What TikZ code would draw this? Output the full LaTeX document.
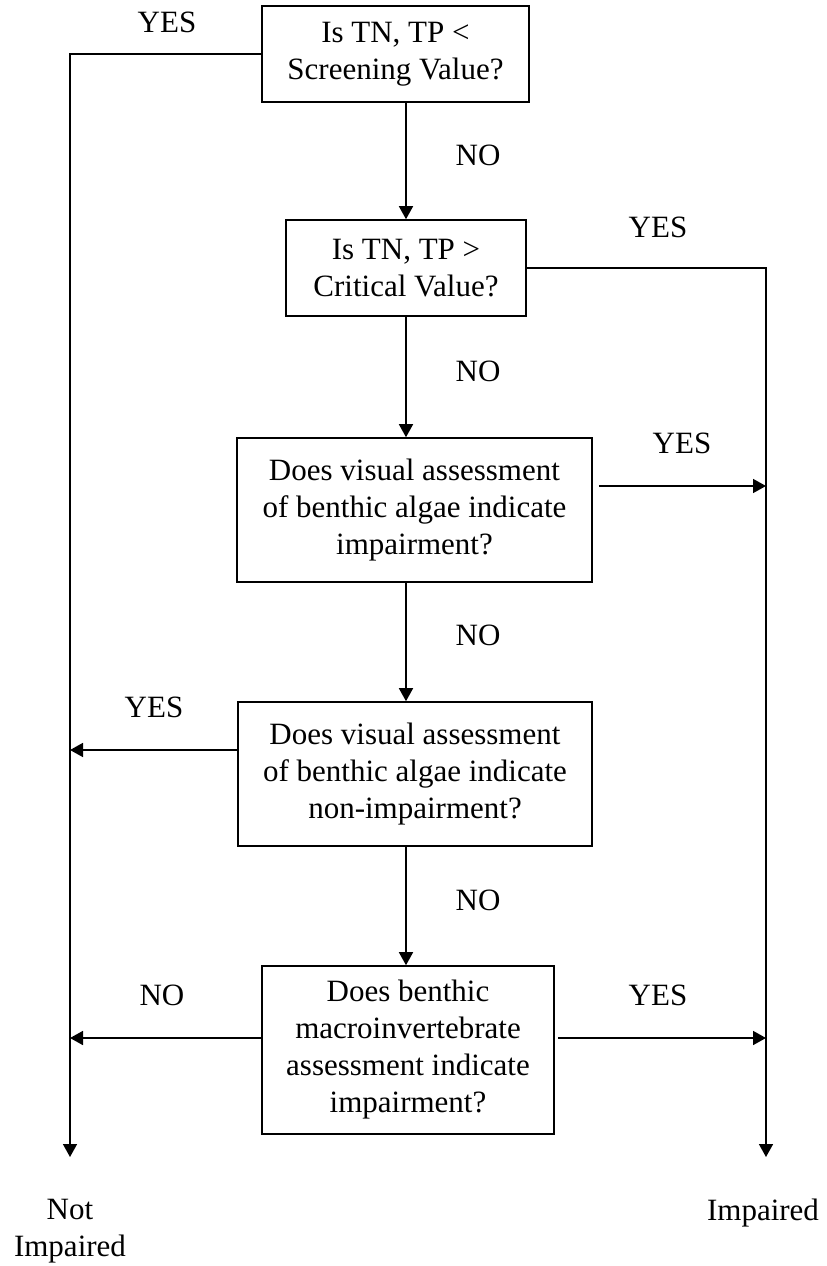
\documentclass[tikz,border=0pt]{standalone}
\usepackage{fontspec}
\setmainfont{Liberation Serif}
\usetikzlibrary{arrows.meta}

\begin{document}
\begin{tikzpicture}[x=1pt,y=-1pt,
        font=\fontsize{31}{37}\selectfont,
        qbox/.style={draw,line width=1.6pt,align=center,inner sep=0pt},
        flow/.style={line width=1.6pt,-{Triangle[length=13pt,width=14pt]}},
        lbl/.style={inner sep=0pt,align=center}]
        \useasboundingbox (0,0) rectangle (827,1266);
        % question boxes
        \node[qbox,minimum width=267pt,minimum height=96pt]  (q1) at (395.5,54) {Is TN, TP <\\Screening Value?};
        \node[qbox,minimum width=240pt,minimum height=96pt]  (q2) at (406,268)  {Is TN, TP >\\Critical Value?};
        \node[qbox,minimum width=355pt,minimum height=144pt] (q3) at (414.5,510) {Does visual assessment\\of benthic algae indicate\\impairment?};
        \node[qbox,minimum width=354pt,minimum height=144pt] (q4) at (415,774)  {Does visual assessment\\of benthic algae indicate\\non-impairment?};
        \node[qbox,minimum width=292pt,minimum height=168pt] (q5) at (408,1050) {Does benthic\\macroinvertebrate\\assessment indicate\\impairment?};
        % outcomes
        \node[lbl] (notimp) at (70,1231) {Not\\Impaired};
        \node[lbl] (imp)    at (763,1213) {Impaired};
        \coordinate (nl) at (70,54);
        \coordinate (nb) at (70,1157);
        \coordinate (ib) at (766,1157);
        % NO path down the middle
        \draw[flow] (q2.north |- q1.south) -- (q2.north);
        \draw[flow] (q2.south) -- (q2.south |- q3.north);
        \draw[flow] (q2.south |- q3.south) -- (q2.south |- q4.north);
        \draw[flow] (q2.south |- q4.south) -- (q2.south |- q5.north);
        % side branches
        \draw[flow] (q1.west) -- (nl) -- (nb);
        \draw[flow] (q2.east) -| (ib);
        \draw[flow] ([xshift=6pt,yshift=24pt]q3.east) coordinate (y3) -- (y3 -| ib);
        \draw[flow] ([yshift=24pt]q4.west) coordinate (y4) -- (y4 -| nb);
        \draw[flow] ([yshift=12pt]q5.west) coordinate (n5) -- (n5 -| nb);
        \draw[flow] ([xshift=3pt,yshift=12pt]q5.east) coordinate (y5) -- (y5 -| ib);
        % labels
        \node[lbl] (yes1) at (167,22)  {YES};
        \node[lbl] (no1)  at (478,155) {NO};
        \node[lbl] (yes2) at (658,227) {YES};
        \node[lbl] (no2)  at (478,371) {NO};
        \node[lbl] (yes3) at (682,443) {YES};
        \node[lbl] (no3)  at (478,635) {NO};
        \node[lbl] (yes4) at (154,707) {YES};
        \node[lbl] (no4)  at (478,900) {NO};
        \node[lbl] (no5)  at (162,995) {NO};
        \node[lbl] (yes5) at (658,995) {YES};
\end{tikzpicture}
\end{document}
